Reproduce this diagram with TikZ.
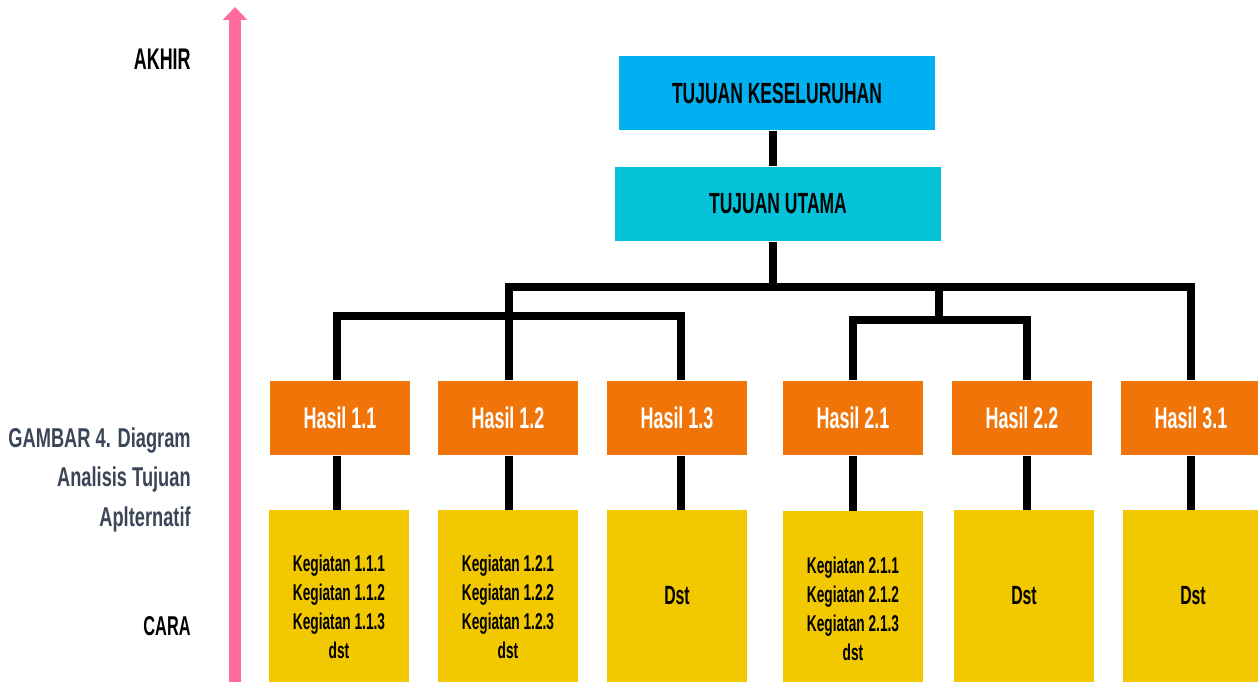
\documentclass[tikz,border=0pt]{standalone}
\usepackage{fontspec}
\setmainfont{Liberation Sans}[FakeStretch=0.6]
\newfontfamily\capfont{Liberation Sans}[FakeStretch=0.67]
\usetikzlibrary{arrows.meta}
\definecolor{biru}{HTML}{00B0F0}
\definecolor{tosca}{HTML}{04C3D9}
\definecolor{oranye}{HTML}{F07408}
\definecolor{kuning}{HTML}{F2C900}
\definecolor{merahmuda}{HTML}{FF6B9C}
\definecolor{abu}{HTML}{3A4557}

\begin{document}
\begin{tikzpicture}[x=0.02cm, y=-0.02cm,
  tujuan/.style={inner sep=0pt, minimum height=1.5cm, font=\bfseries\fontsize{16.6}{20}\selectfont},
  hasil/.style={fill=oranye, inner sep=0pt, minimum width=2.8cm, minimum height=1.5cm, text=white, font=\bfseries\fontsize{17}{20}\selectfont},
  kegbox/.style={fill=kuning, inner sep=0pt, minimum width=2.8cm, minimum height=3.44cm, font=\bfseries\fontsize{15}{18}\selectfont},
  kegtext/.style={align=center, inner sep=0pt, font=\bfseries\fontsize{13}{16.4}\selectfont},
  garis/.style={line width=4.5pt, line join=miter},
  sisi/.style={anchor=east, inner sep=0pt, font=\bfseries\fontsize{17}{20}\selectfont}]
\useasboundingbox (0,0) rectangle (1258,682);

% panah akhir - cara
\coordinate (bawah) at (235,682);
\coordinate (atas) at (235,7);
\draw[merahmuda, line width=6.8pt, -{Triangle[width=13.6pt, length=7.4pt]}] (bawah) -- (atas);
\node[sisi] (akhir) at (191,59) {AKHIR};
\node[sisi, font=\bfseries\fontsize{15.5}{18}\selectfont] (cara) at (191,626) {CARA};
\node[anchor=north east, inner sep=0pt, align=right, text=abu, font=\capfont\bfseries\fontsize{15.5}{22.7}\selectfont] (gambar) at (191,427) {GAMBAR 4. Diagram\\Analisis Tujuan\\Aplternatif};

% tujuan
\node[tujuan, fill=biru, minimum width=6.32cm] (tk) at (777,93) {TUJUAN KESELURUHAN};
\node[tujuan, fill=tosca, minimum width=6.52cm] (tu) at (778,204) {TUJUAN UTAMA};

% hasil
\foreach \n/\x/\t in {h11/340/1.1, h12/508/1.2, h13/677/1.3, h21/853/2.1, h22/1022/2.2, h31/1191/3.1}
  \node[hasil] (\n) at (\x,418) {Hasil \t};

% kegiatan
\node[kegbox] (k11) at (339,596) {};
\node[kegbox] (k12) at (508,596) {};
\node[kegbox] (k13) at (677,596) {Dst};
\node[kegbox] (k21) at (853,597) {};
\node[kegbox] (k22) at (1024,596) {Dst};
\node[kegbox] (k31) at (1193,596) {Dst};
\node[kegtext] (t11) at (339,607) {Kegiatan 1.1.1\\Kegiatan 1.1.2\\Kegiatan 1.1.3\\dst};
\node[kegtext] (t12) at (508,607) {Kegiatan 1.2.1\\Kegiatan 1.2.2\\Kegiatan 1.2.3\\dst};
\node[kegtext] (t21) at (853,609) {Kegiatan 2.1.1\\Kegiatan 2.1.2\\Kegiatan 2.1.3\\dst};

% garis penghubung
\coordinate (jd) at (773,287);
\coordinate (ja) at (509,287);
\coordinate (jb) at (1191,287);
\coordinate (jc) at (939,287);
\coordinate (ka) at (337,316);
\coordinate (kb) at (681,316);
\coordinate (kc) at (853,320);
\coordinate (kd) at (1027,320);
\draw[garis] (tk.south -| jd) -- (tu.north -| jd);
\draw[garis] (tu.south -| jd) -- (jd);
\draw[garis] (h12.north -| ja) -- (ja) -- (jb) -- (h31.north -| jb);
\draw[garis] (h11.north -| ka) -- (ka) -- (kb) -- (h13.north -| kb);
\draw[garis] (jc) -- (jc |- kc);
\draw[garis] (h21.north -| kc) -- (kc) -- (kd) -- (h22.north -| kd);
\foreach \h/\k/\j in {h11/k11/ka, h12/k12/ja, h13/k13/kb, h21/k21/kc, h22/k22/kd, h31/k31/jb}
  \draw[garis] (\h.south -| \j) -- (\k.north -| \j);
\end{tikzpicture}
\end{document}
